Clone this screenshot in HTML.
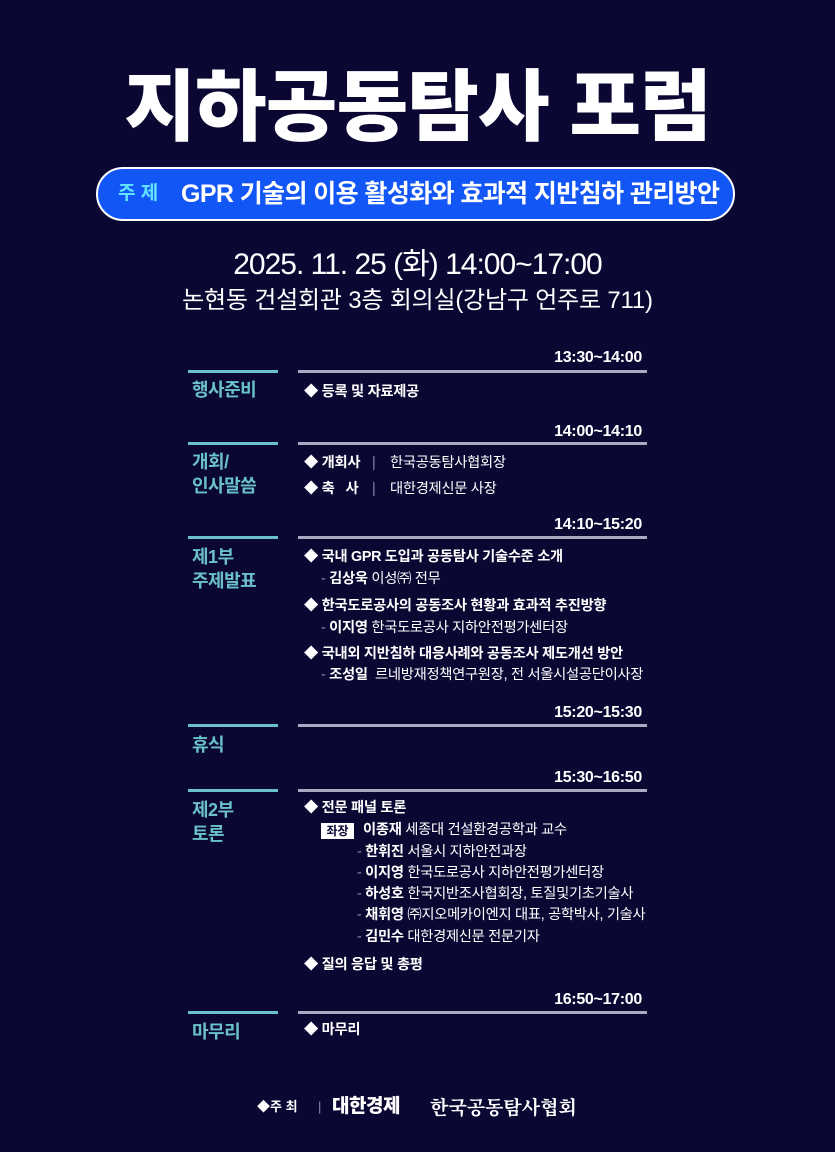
<!DOCTYPE html>
<html><head><meta charset="utf-8"><style>
*{margin:0;padding:0;box-sizing:border-box}
body{width:835px;height:1152px;background:#0a0733;position:relative;overflow:hidden;font-family:"Liberation Sans","Noto Sans CJK KR",sans-serif;color:#fff}
.a{position:absolute;white-space:nowrap}
.t{position:absolute;white-space:nowrap;line-height:20px;font-size:14.3px;letter-spacing:-0.3px}
.tm{position:absolute;right:193px;font-weight:bold;font-size:16px;line-height:20px;letter-spacing:-0.3px}
.ln{position:absolute;left:298px;width:349px;height:3px;background:#a9a9c2}
.lb{position:absolute;left:188px;width:90px;height:3px;background:#6ac1c9}
.lab{position:absolute;left:192px;color:#6ac1c9;font-weight:bold;font-size:18px;line-height:24px;letter-spacing:-0.5px}
b{font-weight:bold}
.g{color:#8a8aa8}
</style></head><body>
<div class="a" style="left:0;width:835px;top:53px;text-align:center;font-size:78px;font-weight:900;line-height:108px;letter-spacing:-1px">지하공동탐사 포럼</div>
<div class="a" style="left:96px;top:167px;width:639px;height:54px;border:2px solid #fff;border-radius:27px;background:#1257f5"></div>
<div class="a" style="left:118px;top:180px;font-size:19px;font-weight:bold;color:#62e3ff;line-height:28px">주 제</div>
<div class="a" style="left:181px;top:177px;font-size:25px;font-weight:bold;line-height:34px;letter-spacing:-0.6px">GPR 기술의 이용 활성화와 효과적 지반침하 관리방안</div>
<div class="a" style="left:0;width:835px;top:245px;text-align:center;font-size:30px;line-height:40px;letter-spacing:-1px">2025. 11. 25 (화) 14:00~17:00</div>
<div class="a" style="left:0;width:835px;top:285px;text-align:center;font-size:24px;line-height:32px;letter-spacing:-0.2px">논현동 건설회관 3층 회의실(강남구 언주로 711)</div>

<div class="tm" style="top:348px">13:30~14:00</div><div class="ln" style="top:370px"></div><div class="lb" style="top:370px"></div>
<div class="lab" style="top:378px">행사준비</div>
<div class="t" style="left:304px;top:382px"><b>◆ 등록 및 자료제공</b></div>

<div class="tm" style="top:422px">14:00~14:10</div><div class="ln" style="top:442px"></div><div class="lb" style="top:442px"></div>
<div class="lab" style="top:450px">개회/<br>인사말씀</div>
<div class="t" style="left:304px;top:453px"><b>◆ 개회사</b></div><div class="t g" style="left:372px;top:453px">|</div><div class="t" style="left:390px;top:453px">한국공동탐사협회장</div>
<div class="t" style="left:304px;top:479px"><b>◆ 축 &nbsp; 사</b></div><div class="t g" style="left:372px;top:479px">|</div><div class="t" style="left:390px;top:479px">대한경제신문 사장</div>

<div class="tm" style="top:515px">14:10~15:20</div><div class="ln" style="top:536px"></div><div class="lb" style="top:536px"></div>
<div class="lab" style="top:545px">제1부<br>주제발표</div>
<div class="t" style="left:304px;top:547px"><b>◆ 국내 GPR 도입과 공동탐사 기술수준 소개</b></div>
<div class="t" style="left:321px;top:569px"><span class="g">- </span><b>김상욱</b> 이성㈜ 전무</div>
<div class="t" style="left:304px;top:596px"><b>◆ 한국도로공사의 공동조사 현황과 효과적 추진방향</b></div>
<div class="t" style="left:321px;top:618px"><span class="g">- </span><b>이지영</b> 한국도로공사 지하안전평가센터장</div>
<div class="t" style="left:304px;top:644px"><b>◆ 국내외 지반침하 대응사례와 공동조사 제도개선 방안</b></div>
<div class="t" style="left:321px;top:665px"><span class="g">- </span><b>조성일</b>&nbsp; 르네방재정책연구원장, 전 서울시설공단이사장</div>

<div class="tm" style="top:703px">15:20~15:30</div><div class="ln" style="top:724px"></div><div class="lb" style="top:724px"></div>
<div class="lab" style="top:733px">휴식</div>

<div class="tm" style="top:768px">15:30~16:50</div><div class="ln" style="top:789px"></div><div class="lb" style="top:789px"></div>
<div class="lab" style="top:798px">제2부<br>토론</div>
<div class="t" style="left:304px;top:798px"><b>◆ 전문 패널 토론</b></div>
<div class="a" style="left:321px;top:823px;width:33px;height:16px;background:#fff;color:#0a0733;font-size:12px;font-weight:bold;line-height:16px;text-align:center">좌장</div>
<div class="t" style="left:363px;top:820px"><b>이종재</b> 세종대 건설환경공학과 교수</div>
<div class="t" style="left:357px;top:842px"><span class="g">- </span><b>한휘진</b> 서울시 지하안전과장</div>
<div class="t" style="left:357px;top:863px"><span class="g">- </span><b>이지영</b> 한국도로공사 지하안전평가센터장</div>
<div class="t" style="left:357px;top:884px"><span class="g">- </span><b>하성호</b> 한국지반조사협회장, 토질및기초기술사</div>
<div class="t" style="left:357px;top:905px"><span class="g">- </span><b>채휘영</b> ㈜지오메카이엔지 대표, 공학박사, 기술사</div>
<div class="t" style="left:357px;top:927px"><span class="g">- </span><b>김민수</b> 대한경제신문 전문기자</div>
<div class="t" style="left:304px;top:955px"><b>◆ 질의 응답 및 총평</b></div>

<div class="tm" style="top:990px">16:50~17:00</div><div class="ln" style="top:1011px"></div><div class="lb" style="top:1011px"></div>
<div class="lab" style="top:1020px">마무리</div>
<div class="t" style="left:304px;top:1020px"><b>◆ 마무리</b></div>

<div class="a" style="left:257px;top:1097px;font-size:13px;line-height:20px"><b>◆주 최</b></div>
<div class="a g" style="left:318px;top:1097px;font-size:13px;line-height:20px">|</div>
<div class="a" style="left:332px;top:1094px;font-size:19px;font-weight:900;line-height:26px;letter-spacing:-0.5px">대한경제</div>
<div class="a" style="left:430px;top:1094px;font-size:19px;line-height:26px;font-family:'Noto Serif CJK SC','Liberation Serif',serif;font-weight:bold">한국공동탐사협회</div>
</body></html>
